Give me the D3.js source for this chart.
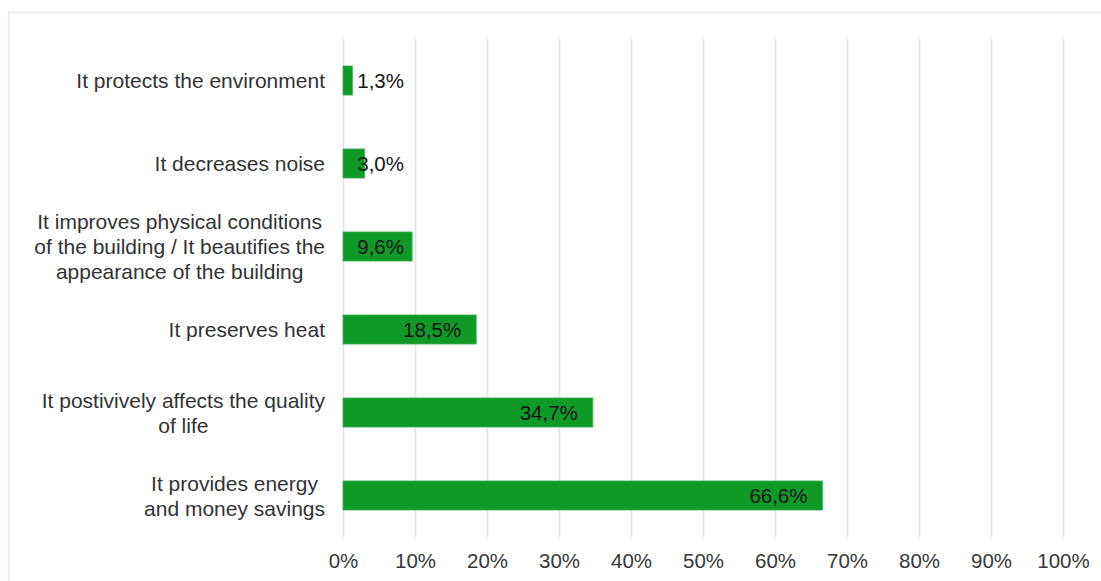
<!DOCTYPE html>
<html>
<head>
<meta charset="utf-8">
<script src="https://cdn.jsdelivr.net/npm/d3@7/dist/d3.min.js"></script>
<style>
  html, body { margin: 0; padding: 0; background: #fff; }
  svg { display: block; }
  text { font-family: "Liberation Sans", Arial, sans-serif; }
</style>
</head>
<body>
<svg id="chart" width="1101" height="581"></svg>
<script>
// Reasons given for the benefit of building insulation (share of respondents, %)
const categories = [
  ["It protects the environment"],
  ["It decreases noise"],
  ["It improves physical conditions", "of the building / It beautifies the", "appearance of the building"],
  ["It preserves heat"],
  ["It postivively affects the quality", "of life"],
  ["It provides energy", "and money savings"]
];
const values = [1.3, 3.0, 9.6, 18.5, 34.7, 66.6];
const valueLabels = ["1,3%", "3,0%", "9,6%", "18,5%", "34,7%", "66,6%"];
const tickValues = [0, 10, 20, 30, 40, 50, 60, 70, 80, 90, 100];
const tickLabels = ["0%", "10%", "20%", "30%", "40%", "50%", "60%", "70%", "80%", "90%", "100%"];

const svg = d3.select("#chart");
const W = 1101, H = 581;

// chart frame (runs past the right and bottom edges)
svg.append("rect")
  .attr("x", 8.5).attr("y", 12.5)
  .attr("width", W + 20).attr("height", H + 20)
  .attr("fill", "#fff")
  .attr("stroke", "#ebebeb")
  .attr("stroke-width", 1.5);

const plot = { left: 343, right: 1063, top: 39, bottom: 537 };

const x = d3.scaleLinear().domain([0, 100]).range([plot.left, plot.right]);
const y = d3.scaleBand()
  .domain(d3.range(categories.length))
  .range([plot.top, plot.bottom])
  .paddingInner(0.65)
  .paddingOuter(0.325);

// vertical gridlines
const xAxis = d3.axisBottom(x)
  .tickValues(tickValues)
  .tickFormat((d, i) => tickLabels[i])
  .tickSize(plot.bottom - plot.top)
  .tickPadding(16);

const gx = svg.append("g")
  .attr("transform", `translate(0,${plot.top})`)
  .call(xAxis);
gx.select(".domain").remove();
gx.selectAll(".tick line")
  .attr("stroke", "#e3e3e3")
  .attr("stroke-width", 1.5);
gx.selectAll(".tick text")
  .attr("fill", "#383838")
  .attr("font-size", "20.5px");

// bars
svg.append("g").selectAll("rect")
  .data(values)
  .join("rect")
  .attr("x", x(0))
  .attr("y", (d, i) => y(i))
  .attr("width", d => x(d) - x(0))
  .attr("height", y.bandwidth())
  .attr("fill", "#0f9a28")
  .attr("stroke", "#3fb055")
  .attr("stroke-width", 0.8);

// value labels, placed inside the bar end
svg.append("g").selectAll("text")
  .data(values)
  .join("text")
  .attr("x", d => Math.max(x(d) - 15, x(0) + 61))
  .attr("y", (d, i) => y(i) + y.bandwidth() / 2)
  .attr("dy", "0.36em")
  .attr("text-anchor", "end")
  .attr("fill", "#141414")
  .attr("font-size", "20.5px")
  .text((d, i) => valueLabels[i]);

// category labels: centered lines, block right-aligned next to the axis
const labelRight = 325;
const lineH = 25;
const cat = svg.append("g");
categories.forEach((lines, i) => {
  const cy = y(i) + y.bandwidth() / 2;
  const t = cat.append("text")
    .attr("fill", "#333333")
    .attr("font-size", "21px")
    .attr("text-anchor", "middle");
  const spans = lines.map((ln, j) =>
    t.append("tspan")
      .attr("y", cy + (j - (lines.length - 1) / 2) * lineH)
      .attr("dy", "0.36em")
      .text(ln));
  const maxW = d3.max(spans, s => s.node().getComputedTextLength());
  spans.forEach(s => s.attr("x", labelRight - maxW / 2));
});
</script>
</body>
</html>
